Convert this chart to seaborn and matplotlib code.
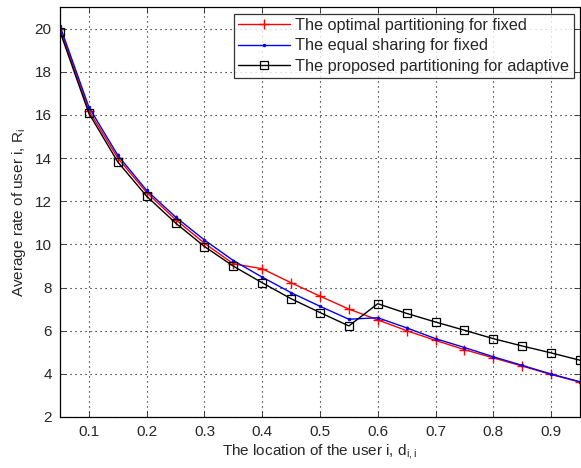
import matplotlib
matplotlib.use("Agg")
import matplotlib.pyplot as plt
import pandas as pd
import seaborn as sns

# user location d_{i,i}
location = [0.05, 0.10, 0.15, 0.20, 0.25, 0.30, 0.35, 0.40, 0.45, 0.50,
            0.55, 0.60, 0.65, 0.70, 0.75, 0.80, 0.85, 0.90, 0.95]

optimal_fixed = [20.0, 16.2, 14.0, 12.4, 11.15, 10.05, 9.1, 8.87, 8.22, 7.6,
                 7.0, 6.5, 6.0, 5.55, 5.12, 4.74, 4.36, 3.97, 3.62]
equal_fixed = [20.12, 16.36, 14.13, 12.5, 11.27, 10.2, 9.25, 8.48, 7.76, 7.13,
               6.53, 6.6, 6.13, 5.63, 5.22, 4.79, 4.39, 3.99, 3.63]
proposed_adaptive = [19.86, 16.07, 13.82, 12.23, 10.99, 9.9, 8.99, 8.22, 7.48, 6.84,
                     6.22, 7.25, 6.8, 6.4, 6.02, 5.63, 5.29, 4.97, 4.63]

labels = ["The optimal partitioning for fixed",
          "The equal sharing for fixed",
          "The proposed partitioning for adaptive"]

sns.set_style("ticks")
plt.rcParams['font.family'] = ['Liberation Sans', 'DejaVu Sans']
plt.rcParams['mathtext.default'] = 'regular'

df = pd.DataFrame({
    'location': location * 3,
    'rate': optimal_fixed + equal_fixed + proposed_adaptive,
    'scheme': [labels[0]] * len(location) + [labels[1]] * len(location) + [labels[2]] * len(location),
})

fig = plt.figure(figsize=(5.81, 4.68), dpi=100)
ax = fig.add_axes([0.1033, 0.109, 0.895, 0.876])

# seaborn defaults marker edges to white, so set them explicitly
styles = {
    labels[0]: dict(color='red', marker='+', markersize=7, markeredgewidth=1.0,
                    markeredgecolor='red'),
    labels[1]: dict(color='blue', marker='.', markersize=4, markeredgewidth=0.5,
                    markeredgecolor='blue'),
    labels[2]: dict(color='black', marker='s', markersize=6, markerfacecolor='none',
                    markeredgecolor='black', markeredgewidth=0.9),
}

for name in labels:
    sub = df[df['scheme'] == name]
    sns.lineplot(data=sub, x='location', y='rate', ax=ax, label=name,
                 linewidth=1.0, **styles[name])

ax.set_xlim(0.05, 0.95)
ax.set_ylim(2, 21)
ax.set_xticks([0.1, 0.2, 0.3, 0.4, 0.5, 0.6, 0.7, 0.8, 0.9])
ax.set_yticks(range(2, 21, 2))
ax.tick_params(direction='in', top=True, right=True, labelsize=11, length=4,
               width=0.6, pad=6)
ax.grid(True, color='black', linestyle=(0, (1, 3.5)), linewidth=0.8)
for spine in ax.spines.values():
    spine.set_linewidth(0.9)
    spine.set_color('black')

ax.set_xlabel("The location of the user i, d$_{i,i}$", fontsize=11, labelpad=2)
ax.set_ylabel("Average rate of user i, R$_i$", fontsize=11, labelpad=5)

leg = ax.legend(loc='upper right', fontsize=11.7, frameon=True, fancybox=False,
                borderaxespad=0.4, handlelength=3.2, labelspacing=0.35,
                borderpad=0.25, handletextpad=0.35)
leg.get_frame().set_edgecolor('black')
leg.get_frame().set_linewidth(0.9)

fig.savefig("out.png", dpi=100)
